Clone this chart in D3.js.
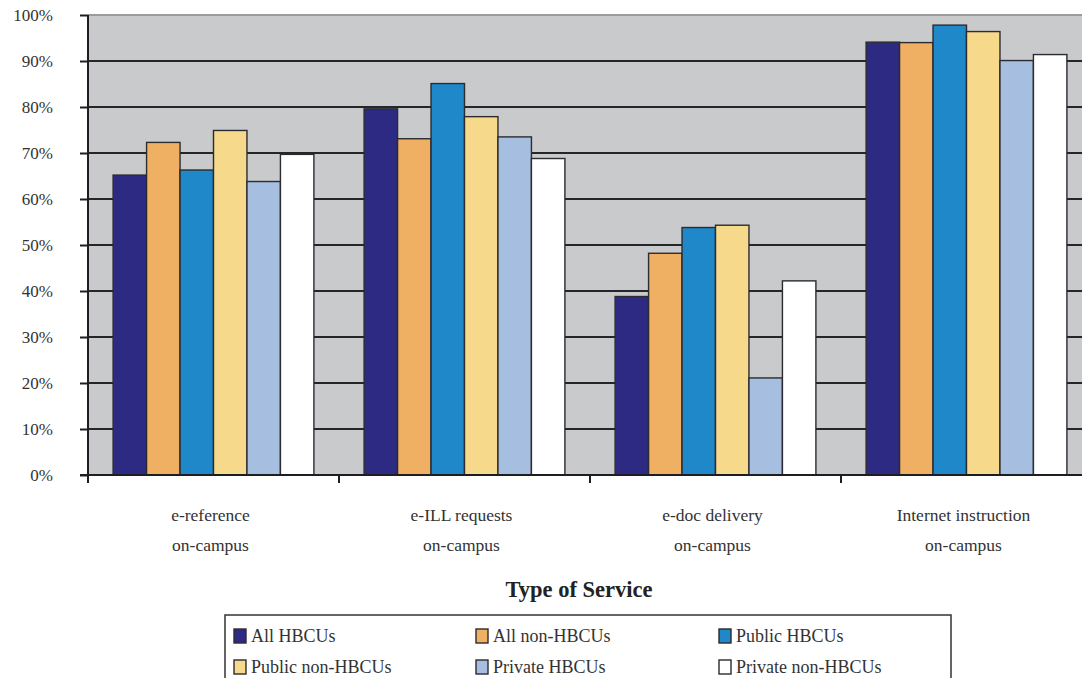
<!DOCTYPE html>
<html><head><meta charset="utf-8">
<script src="https://cdn.jsdelivr.net/npm/d3@7"></script>
<style>body{margin:0;background:#fff;overflow:hidden}svg{display:block}</style>
</head><body><svg id="c" width="1082" height="678"></svg>
<script>
const categories = [["e-reference","on-campus"],["e-ILL requests","on-campus"],["e-doc delivery","on-campus"],["Internet instruction","on-campus"]];
const seriesNames = ["All HBCUs","All non-HBCUs","Public HBCUs","Public non-HBCUs","Private HBCUs","Private non-HBCUs"];
const allHBCUs      = [65.2, 79.6, 38.8, 94.1];
const allNonHBCUs   = [72.3, 73.1, 48.2, 94.0];
const publicHBCUs   = [66.3, 85.1, 53.8, 97.8];
const publicNonHBCUs= [74.9, 77.9, 54.3, 96.4];
const privateHBCUs  = [63.8, 73.5, 21.1, 90.1];
const privateNonHBCUs=[69.7, 68.8, 42.2, 91.4];
const yTicks = [0,10,20,30,40,50,60,70,80,90,100];
const colors = ["#2d2a83","#efb063","#1f88c9","#f7d98c","#a6bfe0","#ffffff"];
const series = [allHBCUs, allNonHBCUs, publicHBCUs, publicNonHBCUs, privateHBCUs, privateNonHBCUs];

const svg = d3.select("#c");
const font = "'Liberation Serif', 'DejaVu Serif', serif";
const x0 = d3.scaleBand().domain(d3.range(categories.length)).range([88, 1092]);
const x1 = d3.scaleBand().domain(d3.range(seriesNames.length)).range([0, x0.bandwidth()]).paddingOuter(0.75).paddingInner(0);
const y = d3.scaleLinear().domain([0,100]).range([475, 15]);

// plot background
svg.append("rect").attr("x",88).attr("y",15).attr("width",1004).attr("height",460).attr("fill","#c9cacc");
// top border
svg.append("line").attr("x1",88).attr("x2",1082).attr("y1",15).attr("y2",15).attr("stroke","#9a9b9d").attr("stroke-width",2);
// gridlines
svg.append("g").selectAll("line").data(yTicks.filter(t=>t>0 && t<100)).join("line")
  .attr("x1",88).attr("x2",1092).attr("y1",d=>y(d)).attr("y2",d=>y(d))
  .attr("stroke","#26262a").attr("stroke-width",1.8);

// bars
const g = svg.append("g");
categories.forEach((c,i)=>{
  series.forEach((s,j)=>{
    g.append("rect")
      .attr("x", x0(i)+x1(j)).attr("y", y(s[i]))
      .attr("width", x1.bandwidth()).attr("height", y(0)-y(s[i]))
      .attr("fill", colors[j]).attr("stroke","#2b2b30").attr("stroke-width",1.4);
  });
});

// y axis
const yAxis = d3.axisLeft(y).tickValues(yTicks).tickFormat(d=>d+"%").tickSize(8).tickPadding(27);
const ya = svg.append("g").attr("transform","translate(88,0)").call(yAxis);
ya.select(".domain").attr("stroke","#1e1e22").attr("stroke-width",2).attr("d","M0,15V475");
ya.selectAll(".tick line").attr("stroke","#1e1e22").attr("stroke-width",2);
ya.selectAll(".tick text").attr("font-family",font).attr("font-size",17).attr("fill","#333").attr("dy","0.32em");

// x axis
const xa = svg.append("g").attr("transform","translate(0,475)");
xa.append("line").attr("x1",80).attr("x2",1082).attr("y1",0).attr("y2",0).attr("stroke","#1e1e22").attr("stroke-width",2);
xa.selectAll("line.t").data(d3.range(categories.length+1)).join("line").attr("class","t")
  .attr("x1",d=>88+d*x0.bandwidth()).attr("x2",d=>88+d*x0.bandwidth()).attr("y1",0).attr("y2",8)
  .attr("stroke","#1e1e22").attr("stroke-width",2);
categories.forEach((c,i)=>{
  const cx = x0(i)+x0.bandwidth()/2 - 3;
  c.forEach((line,k)=>{
    xa.append("text").attr("x",cx).attr("y",46+k*30).attr("text-anchor","middle")
      .attr("font-family",font).attr("font-size",17.5).attr("fill","#333").text(line);
  });
});

// axis title
svg.append("text").attr("x",579).attr("y",597).attr("text-anchor","middle")
  .attr("font-family",font).attr("font-size",22.5).attr("font-weight","bold").attr("fill","#222").text("Type of Service");

// legend
svg.append("rect").attr("x",225).attr("y",615).attr("width",726).attr("height",80)
  .attr("fill","#fff").attr("stroke","#333").attr("stroke-width",1.5);
const colX = [234, 476, 719];
seriesNames.forEach((n,j)=>{
  const cx = colX[j%3], cy = 636 + Math.floor(j/3)*31;
  svg.append("rect").attr("x",cx).attr("y",cy-7).attr("width",12).attr("height",14)
    .attr("fill",colors[j]).attr("stroke","#2b2b30").attr("stroke-width",1.4);
  svg.append("text").attr("x",cx+17).attr("y",cy+6).attr("font-family",font).attr("font-size",18)
    .attr("fill","#333").text(n);
});
</script></body></html>
